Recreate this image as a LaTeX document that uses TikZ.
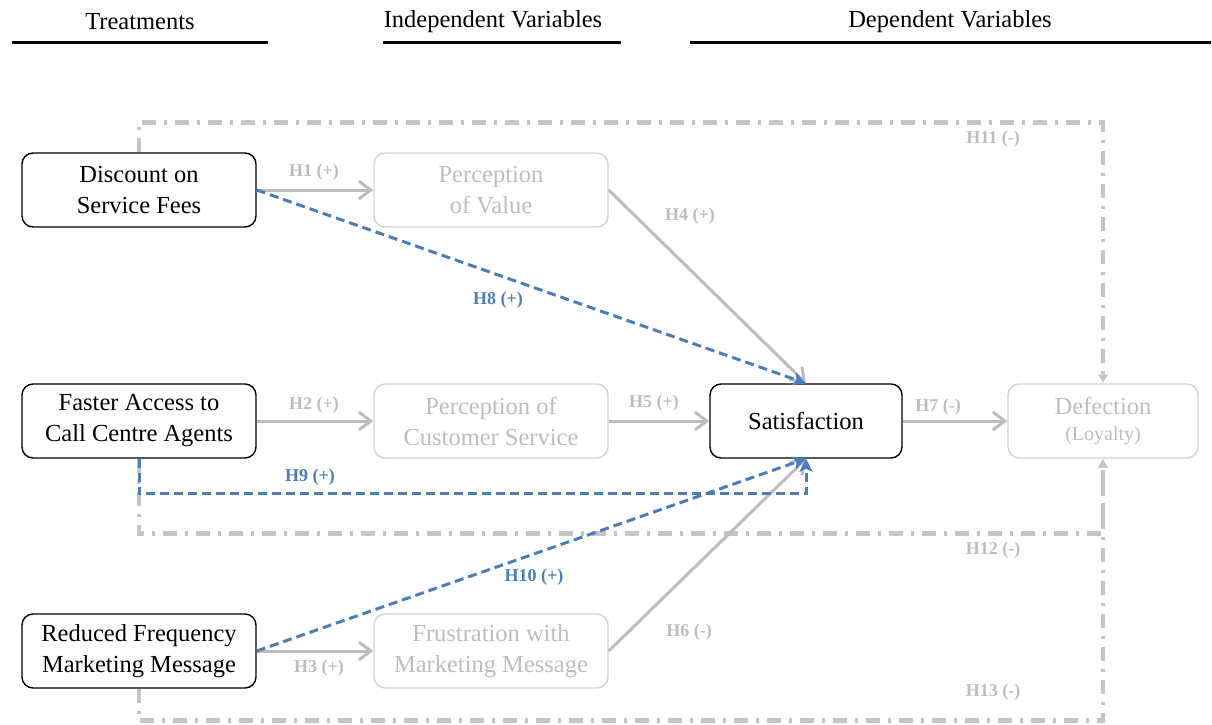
\documentclass[tikz,border=0pt]{standalone}
\usepackage{fontspec}
\setmainfont{Liberation Serif}
\usetikzlibrary{arrows.meta}
\definecolor{lightgr}{HTML}{BDBDBD}
\definecolor{boxgr}{HTML}{D2D2D2}
\definecolor{hblue}{HTML}{4A7EBB}
\definecolor{dashgr}{HTML}{C4C4C4}

\begin{document}
\begin{tikzpicture}[x=1pt,y=-1pt,
  box/.style={draw=black, line width=1.4pt, rounded corners=11pt,
    minimum width=234pt, minimum height=74pt, align=center, inner sep=2pt,
    font=\fontsize{24.5}{31}\selectfont},
  fadedbox/.style={box, draw=boxgr, text=lightgr},
  head/.style={font=\fontsize{24.5}{26}\selectfont},
  headline/.style={line width=3pt, black},
  rel/.style={draw=lightgr, line width=3pt,
    -{Straight Barb[length=12pt,width=18pt]}},
  alt/.style={draw=hblue, line width=3pt, dash pattern=on 9pt off 5pt,
    -{Stealth[length=13pt,width=13pt,inset=3pt]}},
  crossrel/.style={draw=dashgr, line width=4.5pt,
    dash pattern=on 14pt off 8pt on 3pt off 8pt,
    -{Latex[length=9pt,width=11pt]}},
  hyp/.style={text=lightgr, font=\bfseries\fontsize{18}{20}\selectfont},
  bhyp/.style={text=hblue, font=\bfseries\fontsize{18}{20}\selectfont}
]
\useasboundingbox (0,0) rectangle (1212,725);

% column headings
\node[head] (tHead) at (140,22) {Treatments};
\node[head] (iHead) at (493,22) {Independent Variables};
\node[head] (dHead) at (950,22) {Dependent Variables};
\draw[headline] (12,43) -- (268,43);
\draw[headline] (383,43) -- (621,43);
\draw[headline] (690,43) -- (1211,43);

% treatments
\node[box] (disc) at (139,190) {Discount on\\Service Fees};
\node[box] (fast) at (139,421) {Faster Access to\\Call Centre Agents};
\node[box] (red)  at (139,651) {Reduced Frequency\\Marketing Message};

% independent variables
\node[fadedbox] (pv) at (491,190) {Perception\\of Value};
\node[fadedbox] (pcs) at (491,421) {Perception of\\Customer Service};
\node[fadedbox] (fr) at (491,651) {Frustration with\\Marketing Message};

% dependent variables
\node[box, minimum width=192pt] (sat) at (806,421) {Satisfaction};
\node[fadedbox, minimum width=190pt] (def) at (1103,421)
  {Defection\\[-5pt]{\fontsize{20}{24}\selectfont(Loyalty)}};

% direct effects of the treatments on defection
\draw[crossrel] (disc.north) -- ++(0,-30) -| (def.north);
\draw[crossrel] (fast.south) -- ++(0,75) -| (def.south);
\draw[crossrel] (red.south) -- ++(0,32) -| (def.south);
\node[hyp] (h11) at (993,139) {H11 (-)};
\node[hyp] (h12) at (993,550) {H12 (-)};
\node[hyp] (h13) at (993,692) {H13 (-)};

% mediated paths
\draw[rel] (disc.east) -- (pv.west);
\draw[rel] (fast.east) -- (pcs.west);
\draw[rel] (red.east) -- (fr.west);
\draw[rel] (pv.east) -- (sat.north);
\draw[rel] (pcs.east) -- (sat.west);
\draw[rel] (fr.east) -- (sat.south);
\draw[rel] (sat.east) -- (def.west);
\node[hyp] (h1) at (314,172) {H1 (+)};
\node[hyp] (h2) at (314,405) {H2 (+)};
\node[hyp] (h3) at (319,668) {H3 (+)};
\node[hyp] (h4) at (690,216) {H4 (+)};
\node[hyp] (h5) at (654,403) {H5 (+)};
\node[hyp] (h6) at (689,632) {H6 (-)};
\node[hyp] (h7) at (938,407) {H7 (-)};

% direct effects of the treatments on satisfaction
\draw[alt] (disc.east) -- (sat.north);
\draw[alt] (fast.south) -- ++(0,35) -| (sat.south);
\draw[alt] (red.east) -- (sat.south);
\node[bhyp] (h8) at (498,300) {H8 (+)};
\node[bhyp] (h9) at (310,477) {H9 (+)};
\node[bhyp] (h10) at (534,577) {H10 (+)};
\end{tikzpicture}
\end{document}
